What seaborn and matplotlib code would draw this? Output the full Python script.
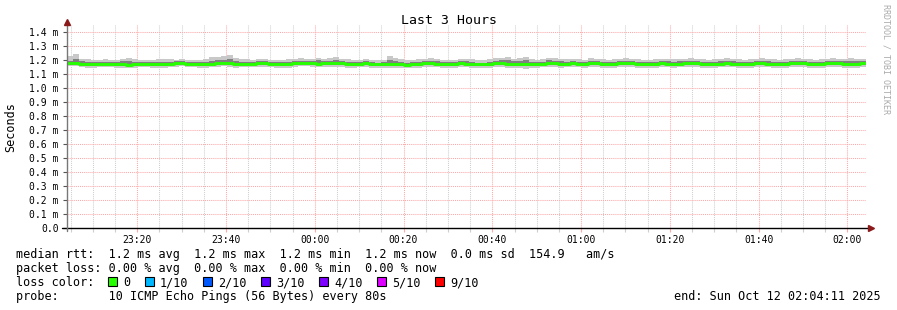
import numpy as np
import matplotlib
matplotlib.use("Agg")
import matplotlib.pyplot as plt
from matplotlib.ticker import MultipleLocator
from matplotlib.patches import Rectangle
from matplotlib.lines import Line2D
import seaborn as sns

# ---------------- data ----------------
start_min = -55.8167      # 23:04:11 relative to 00:00 (minutes)
step_min = 80 / 60        # one probe every 80 s

median = [
    1.176, 1.176, 1.172, 1.168, 1.168, 1.174, 1.174, 1.172, 1.170, 1.168,
    1.166, 1.168, 1.172, 1.172, 1.170, 1.168, 1.170, 1.174, 1.176, 1.178,
    1.174, 1.172, 1.170, 1.170, 1.172, 1.176, 1.178, 1.176, 1.172, 1.172,
    1.174, 1.174, 1.176, 1.176, 1.174, 1.172, 1.170, 1.172, 1.176, 1.178,
    1.178, 1.176, 1.174, 1.176, 1.178, 1.178, 1.176, 1.172, 1.170, 1.174,
    1.176, 1.172, 1.168, 1.170, 1.174, 1.172, 1.168, 1.166, 1.168, 1.172,
    1.176, 1.178, 1.174, 1.172, 1.170, 1.172, 1.176, 1.174, 1.172, 1.168,
    1.168, 1.172, 1.176, 1.178, 1.174, 1.170, 1.172, 1.170, 1.168, 1.170,
    1.174, 1.178, 1.176, 1.172, 1.174, 1.176, 1.174, 1.172, 1.178, 1.176,
    1.172, 1.170, 1.172, 1.176, 1.178, 1.176, 1.174, 1.172, 1.170, 1.172,
    1.176, 1.174, 1.172, 1.174, 1.176, 1.178, 1.176, 1.172, 1.170, 1.172,
    1.174, 1.176, 1.174, 1.172, 1.170, 1.172, 1.176, 1.178, 1.174, 1.172,
    1.170, 1.172, 1.176, 1.178, 1.176, 1.172, 1.170, 1.174, 1.176, 1.178,
    1.176, 1.174, 1.172, 1.174, 1.176,
]

smoke_hi = [
    1.226, 1.243, 1.210, 1.206, 1.202, 1.202, 1.204, 1.200, 1.200, 1.210,
    1.212, 1.206, 1.200, 1.202, 1.200, 1.204, 1.206, 1.204, 1.202, 1.204,
    1.200, 1.198, 1.202, 1.210, 1.218, 1.220, 1.228, 1.236, 1.214, 1.206,
    1.204, 1.202, 1.204, 1.206, 1.202, 1.200, 1.202, 1.208, 1.210, 1.212,
    1.208, 1.204, 1.212, 1.210, 1.214, 1.218, 1.210, 1.204, 1.200, 1.202,
    1.204, 1.200, 1.198, 1.202, 1.230, 1.212, 1.204, 1.200, 1.200, 1.204,
    1.208, 1.212, 1.206, 1.202, 1.200, 1.202, 1.210, 1.206, 1.204, 1.200,
    1.200, 1.204, 1.212, 1.216, 1.218, 1.210, 1.212, 1.220, 1.204, 1.202,
    1.206, 1.216, 1.212, 1.210, 1.208, 1.210, 1.204, 1.202, 1.212, 1.208,
    1.204, 1.202, 1.204, 1.210, 1.212, 1.210, 1.206, 1.202, 1.200, 1.204,
    1.210, 1.208, 1.204, 1.208, 1.210, 1.212, 1.210, 1.204, 1.200, 1.204,
    1.210, 1.214, 1.206, 1.204, 1.200, 1.204, 1.210, 1.212, 1.210, 1.204,
    1.202, 1.204, 1.208, 1.214, 1.210, 1.204, 1.200, 1.206, 1.210, 1.212,
    1.210, 1.208, 1.214, 1.208, 1.210,
]

smoke_lo = [
    1.154, 1.154, 1.148, 1.146, 1.144, 1.150, 1.150, 1.148, 1.146, 1.140,
    1.142, 1.144, 1.148, 1.148, 1.146, 1.142, 1.144, 1.150, 1.152, 1.154,
    1.150, 1.148, 1.140, 1.144, 1.148, 1.152, 1.154, 1.152, 1.146, 1.148,
    1.150, 1.150, 1.152, 1.152, 1.148, 1.146, 1.144, 1.146, 1.152, 1.154,
    1.154, 1.150, 1.148, 1.150, 1.152, 1.150, 1.148, 1.146, 1.144, 1.148,
    1.148, 1.144, 1.142, 1.144, 1.146, 1.144, 1.140, 1.140, 1.142, 1.144,
    1.148, 1.152, 1.148, 1.146, 1.142, 1.144, 1.150, 1.148, 1.146, 1.140,
    1.140, 1.144, 1.150, 1.152, 1.146, 1.142, 1.140, 1.138, 1.140, 1.144,
    1.148, 1.152, 1.150, 1.146, 1.148, 1.150, 1.148, 1.146, 1.152, 1.150,
    1.144, 1.142, 1.144, 1.150, 1.152, 1.148, 1.146, 1.140, 1.140, 1.146,
    1.150, 1.148, 1.146, 1.148, 1.150, 1.152, 1.148, 1.140, 1.140, 1.144,
    1.148, 1.150, 1.148, 1.144, 1.140, 1.144, 1.150, 1.152, 1.148, 1.144,
    1.140, 1.144, 1.150, 1.152, 1.150, 1.144, 1.140, 1.146, 1.150, 1.152,
    1.148, 1.146, 1.142, 1.146, 1.148,
]

inner_hi = [
    1.196, 1.206, 1.190, 1.186, 1.184, 1.188, 1.188, 1.186, 1.184, 1.192,
    1.190, 1.186, 1.186, 1.186, 1.184, 1.188, 1.188, 1.188, 1.190, 1.192,
    1.188, 1.186, 1.184, 1.188, 1.196, 1.198, 1.202, 1.206, 1.192, 1.188,
    1.188, 1.188, 1.190, 1.190, 1.188, 1.186, 1.184, 1.188, 1.192, 1.196,
    1.192, 1.190, 1.198, 1.192, 1.196, 1.202, 1.192, 1.186, 1.184, 1.188,
    1.190, 1.186, 1.182, 1.184, 1.202, 1.192, 1.184, 1.182, 1.184, 1.186,
    1.192, 1.196, 1.190, 1.186, 1.184, 1.186, 1.192, 1.190, 1.186, 1.182,
    1.182, 1.186, 1.194, 1.200, 1.202, 1.190, 1.192, 1.198, 1.186, 1.184,
    1.188, 1.198, 1.194, 1.190, 1.188, 1.192, 1.188, 1.186, 1.196, 1.192,
    1.186, 1.184, 1.186, 1.192, 1.196, 1.192, 1.188, 1.186, 1.184, 1.186,
    1.192, 1.190, 1.186, 1.190, 1.192, 1.196, 1.192, 1.186, 1.184, 1.186,
    1.190, 1.196, 1.190, 1.186, 1.184, 1.186, 1.192, 1.196, 1.190, 1.186,
    1.184, 1.186, 1.190, 1.196, 1.192, 1.186, 1.184, 1.188, 1.192, 1.196,
    1.192, 1.190, 1.194, 1.190, 1.192,
]

inner_lo = [
    1.166, 1.168, 1.162, 1.158, 1.158, 1.164, 1.164, 1.162, 1.160, 1.154,
    1.156, 1.158, 1.162, 1.162, 1.160, 1.156, 1.160, 1.164, 1.166, 1.168,
    1.164, 1.162, 1.156, 1.160, 1.162, 1.166, 1.168, 1.166, 1.162, 1.162,
    1.164, 1.164, 1.166, 1.166, 1.164, 1.162, 1.160, 1.162, 1.166, 1.168,
    1.168, 1.164, 1.162, 1.164, 1.166, 1.166, 1.164, 1.162, 1.160, 1.162,
    1.164, 1.160, 1.158, 1.160, 1.162, 1.160, 1.156, 1.156, 1.158, 1.160,
    1.164, 1.166, 1.162, 1.160, 1.158, 1.160, 1.164, 1.162, 1.160, 1.156,
    1.156, 1.160, 1.164, 1.166, 1.162, 1.158, 1.156, 1.156, 1.156, 1.160,
    1.162, 1.166, 1.164, 1.160, 1.162, 1.164, 1.162, 1.160, 1.166, 1.164,
    1.160, 1.158, 1.160, 1.164, 1.166, 1.164, 1.162, 1.156, 1.158, 1.160,
    1.164, 1.162, 1.160, 1.162, 1.164, 1.166, 1.164, 1.156, 1.156, 1.160,
    1.162, 1.164, 1.162, 1.160, 1.156, 1.160, 1.164, 1.166, 1.162, 1.160,
    1.156, 1.160, 1.164, 1.166, 1.164, 1.160, 1.156, 1.162, 1.164, 1.166,
    1.164, 1.162, 1.160, 1.162, 1.164,
]

x_tick_pos = [-40, -20, 0, 20, 40, 60, 80, 100, 120]
x_tick_labels = ["23:20", "23:40", "00:00", "00:20", "00:40",
                 "01:00", "01:20", "01:40", "02:00"]
y_tick_pos = [0.0, 0.1, 0.2, 0.3, 0.4, 0.5, 0.6, 0.7, 0.8, 0.9, 1.0, 1.1, 1.2, 1.3, 1.4]
y_tick_labels = ["0.0", "0.1 m", "0.2 m", "0.3 m", "0.4 m", "0.5 m", "0.6 m",
                 "0.7 m", "0.8 m", "0.9 m", "1.0 m", "1.1 m", "1.2 m", "1.3 m", "1.4 m"]

loss_labels = ["0", "1/10", "2/10", "3/10", "4/10", "5/10", "9/10"]
loss_colors = ["#26ff00", "#00b8ff", "#0059ff", "#5e00ff", "#7e00ff", "#dd00ff", "#ff0000"]

legend_lines = [
    "median rtt:  1.2 ms avg  1.2 ms max  1.2 ms min  1.2 ms now  0.0 ms sd  154.9   am/s",
    "packet loss: 0.00 % avg  0.00 % max  0.00 % min  0.00 % now",
    "loss color:",
    "probe:       10 ICMP Echo Pings (56 Bytes) every 80s",
]
end_text = "end: Sun Oct 12 02:04:11 2025"

# ---------------- figure ----------------
sns.set_theme(style="white")
plt.rcParams['font.family'] = ['DejaVu Sans Mono', 'DejaVu Sans']

W, H = 897, 310
fig = plt.figure(figsize=(W / 100, H / 100), dpi=100)
fig.patch.set_facecolor("white")

def fx(px):
    return px / W

def fy(py):
    return 1 - py / H

ax_left, ax_right, ax_bottom, ax_top = 67, 866, 228, 25
ax = fig.add_axes([fx(ax_left), fy(ax_bottom), fx(ax_right - ax_left), (ax_bottom - ax_top) / H])
ax.set_facecolor("white")

n = len(median)
t = start_min + step_min * np.arange(n + 1)
x_end = start_min + step_min * n

def ext(a):
    return list(a) + [a[-1]]

# grid (drawn manually so colours are exact)
grid_red = "#ffa8a8"
grid_gray = "#cfcfcf"
dots = (0, (1, 1))
for m in np.arange(-55, x_end, 5):
    if m in x_tick_pos:
        continue
    ax.axvline(m, color=grid_gray, linestyle=dots, linewidth=0.75, zorder=1)
for m in x_tick_pos:
    ax.axvline(m, color=grid_red, linestyle=dots, linewidth=0.75, zorder=1)
for v in y_tick_pos[1:]:
    ax.axhline(v, color=grid_red, linestyle=dots, linewidth=0.75, zorder=1)

ax.fill_between(t, ext(smoke_lo), ext(smoke_hi), step="post", color="#c8c8c8", linewidth=0, zorder=2)
ax.fill_between(t, ext(inner_lo), ext(inner_hi), step="post", color="#808080", linewidth=0, zorder=3)
sns.lineplot(x=t, y=ext(median), estimator=None, drawstyle="steps-post",
             color=loss_colors[0], linewidth=2.1, ax=ax, zorder=4)

ax.set_xlim(start_min, x_end)
ax.set_ylim(0, (ax_bottom - ax_top) / 140.0)

ax.set_xticks(x_tick_pos)
ax.set_xticklabels(x_tick_labels)
ax.xaxis.set_minor_locator(MultipleLocator(5))
ax.set_yticks(y_tick_pos)
ax.set_yticklabels(y_tick_labels)
ax.grid(False)

for s in ax.spines.values():
    s.set_visible(False)

ax.tick_params(axis="y", which="major", direction="out", length=3, width=0.8,
               color="#555555", pad=3, labelsize=7, labelcolor="#000000", left=True)
ax.tick_params(axis="x", which="major", direction="out", length=3, width=0.8,
               color=grid_red, pad=2, labelsize=7, labelcolor="#000000", bottom=True)
ax.tick_params(axis="x", which="minor", direction="out", length=3, width=0.8,
               color=grid_gray, bottom=True)
ax.set_xlabel("")
ax.set_ylabel("")

# axis lines + arrows
fig.add_artist(Line2D([fx(62), fx(869)], [fy(228), fy(228)], color="#000000", linewidth=1.0))
fig.add_artist(Line2D([fx(67), fx(67)], [fy(231), fy(24)], color="#777777", linewidth=1.0))
fig.add_artist(Line2D([fx(871)], [fy(228)], marker=">", markersize=4, color="#8b1a1a", linestyle="none"))
fig.add_artist(Line2D([fx(67)], [fy(22)], marker="^", markersize=4, color="#8b1a1a", linestyle="none"))

# texts
fig.text(0.5, fy(24), "Last 3 Hours", ha="center", va="baseline", fontsize=9.5, color="#000000")
fig.text(fx(11), fy(127), "Seconds", ha="center", va="center", rotation=90, fontsize=8.5, color="#000000")
fig.text(fx(886), fy(4), "RRDTOOL / TOBI OETIKER", ha="center", va="top", rotation=270,
         fontsize=6, color="#aaaaaa")

baselines = [258, 272, 286, 300]
for line, b in zip(legend_lines, baselines):
    fig.text(fx(16), fy(b), line, ha="left", va="baseline", fontsize=8.5, color="#000000")
fig.text(fx(881), fy(300), end_text, ha="right", va="baseline", fontsize=8.5, color="#000000")

box_x = [108, 145, 203, 261, 319, 377, 435]
for bx, lab, col in zip(box_x, loss_labels, loss_colors):
    fig.add_artist(Rectangle((fx(bx), fy(286)), 9 / W, 9 / H, facecolor=col,
                             edgecolor="#000000", linewidth=0.8))
    fig.text(fx(bx + 15), fy(286), lab, ha="left", va="baseline", fontsize=8.5, color="#000000")

fig.savefig("out.png", dpi=100, facecolor="white")
